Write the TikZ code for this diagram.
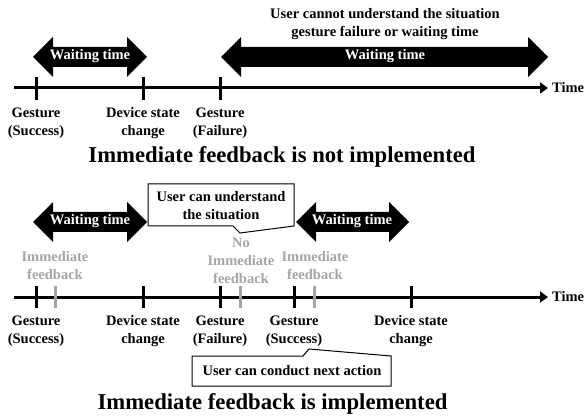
\documentclass[tikz,border=0pt]{standalone}
\usepackage{fontspec}
\setmainfont{Liberation Serif}
\usetikzlibrary{arrows.meta}
\definecolor{fbgray}{RGB}{165,165,165}
\newcommand\waitarrow[3]{% x1, x2, yc
  \fill (#1,#3) -- (#1+20,#3-20) -- (#1+20,#3-10) -- (#2-20,#3-10) -- (#2-20,#3-20)
        -- (#2,#3) -- (#2-20,#3+20) -- (#2-20,#3+10) -- (#1+20,#3+10) -- (#1+20,#3+20) -- cycle;}
\begin{document}
\begin{tikzpicture}[x=1pt,y=-1pt,
  lbl/.style={font=\fontsize{14.5}{18}\selectfont\bfseries, align=center, inner sep=0pt},
  wtxt/.style={lbl, text=white},
  gtxt/.style={lbl, text=fbgray},
  title/.style={font=\fontsize{22.7}{26}\selectfont\bfseries, inner sep=0pt},
  timeline/.style={line width=3pt, -{Triangle[length=8pt,width=11pt]}},
  tick/.style={line width=3pt},
  gtick/.style={line width=3pt, draw=fbgray},
  callout/.style={draw, line width=1pt, fill=white}]
\useasboundingbox (0,0) rectangle (585,419);

% ---------- top: not implemented ----------
\coordinate (a1) at (14,88);
\coordinate (a2) at (548,88);
\draw[timeline] (a1) -- (a2);
\node[lbl, anchor=west] (time1) at (552,88) {Time};
\foreach \x/\n in {36/ta, 143/tb, 220/tc}{
  \coordinate (\n top) at (\x,77); \coordinate (\n bot) at (\x,100);
  \draw[tick] (\n top) -- (\n bot);}

\waitarrow{33}{147}{57}
\node[wtxt] (w1) at (90,56) {Waiting time};
\waitarrow{221}{548}{57}
\node[wtxt] (w2) at (385,56) {Waiting time};
\node[lbl] (cannot) at (385,24) {User cannot understand the situation\\gesture failure or waiting time};

\node[lbl] (l1) at (36,123) {Gesture\\(Success)};
\node[lbl] (l2) at (143,123) {Device state\\change};
\node[lbl] (l3) at (220,123) {Gesture\\(Failure)};
\node[title] (t1) at (282,157) {Immediate feedback is not implemented};

% ---------- bottom: implemented ----------
\coordinate (b1) at (14,297);
\coordinate (b2) at (548,297);
\draw[timeline] (b1) -- (b2);
\node[lbl, anchor=west] (time2) at (552,297) {Time};
\foreach \x/\n in {36/ua, 143/ub, 220/uc, 294/ud, 411/ue}{
  \coordinate (\n top) at (\x,286); \coordinate (\n bot) at (\x,308);
  \draw[tick] (\n top) -- (\n bot);}
\foreach \x/\n in {55/ga, 240/gb, 314/gc}{
  \coordinate (\n top) at (\x,286); \coordinate (\n bot) at (\x,308);
  \draw[gtick] (\n top) -- (\n bot);}

\waitarrow{33}{147}{222}
\node[wtxt] (w3) at (90,221) {Waiting time};
\waitarrow{296}{409}{222}
\node[wtxt] (w4) at (352,221) {Waiting time};

\node[gtxt] (g1) at (55,266) {Immediate\\feedback};
\node[gtxt] (g2) at (241,261) {No\\Immediate\\feedback};
\node[gtxt] (g3) at (315,266) {Immediate\\feedback};

\draw[callout] (148,184) -- (294,184) -- (294,226) -- (240,233) -- (233,226) -- (148,226) -- cycle;
\node[lbl] (c1) at (221,206) {User can understand\\the situation};

\node[lbl] (m1) at (36,331) {Gesture\\(Success)};
\node[lbl] (m2) at (143,331) {Device state\\change};
\node[lbl] (m3) at (220,331) {Gesture\\(Failure)};
\node[lbl] (m4) at (294,331) {Gesture\\(Success)};
\node[lbl] (m5) at (411,331) {Device state\\change};

\draw[callout] (192,356) -- (303,356) -- (309,349) -- (391,356) -- (391,386) -- (192,386) -- cycle;
\node[lbl] (c2) at (292,371) {User can conduct next action};

\node[title] (t2) at (272.5,404) {Immediate feedback is implemented};
\end{tikzpicture}
\end{document}
